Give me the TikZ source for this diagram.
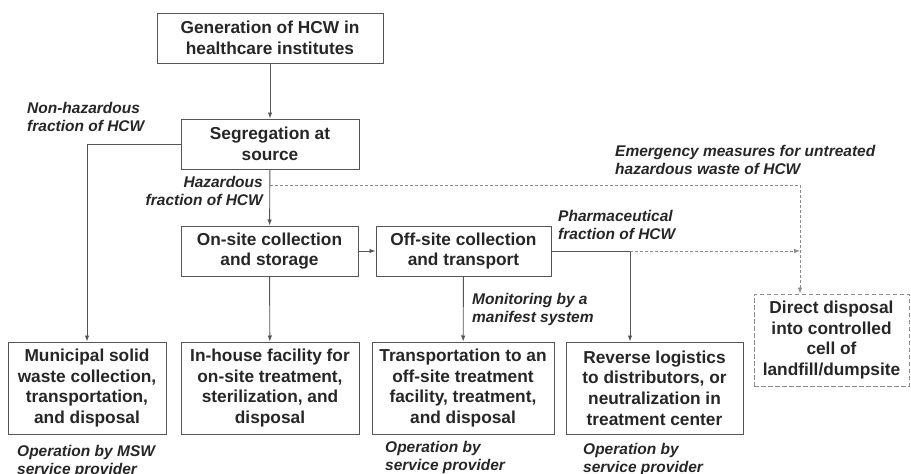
\documentclass[tikz,border=0pt]{standalone}
\usepackage{fontspec}
\setmainfont{Liberation Sans}
\usepackage{xcolor}
\usetikzlibrary{arrows.meta, positioning}

\definecolor{inkgray}{HTML}{262626}
\definecolor{linegray}{HTML}{555555}
\definecolor{dashgray}{HTML}{8C8C8C}

\begin{document}
\begin{tikzpicture}[
                x=1pt, y=-1pt,
                block/.style={draw=linegray, line width=1pt, rectangle, inner sep=0pt, align=center, text=inkgray,
                              font=\bfseries\fontsize{17.3}{20.7}\selectfont},
                note/.style={inner sep=0pt, text=inkgray, font=\bfseries\itshape\fontsize{15.5}{18.5}\selectfont},
                link/.style={draw=linegray, line width=0.9pt, -{Latex[length=6pt,width=4.5pt]}},
                plain/.style={draw=linegray, line width=0.9pt},
                dashlink/.style={draw=dashgray, line width=0.8pt, dash pattern=on 3pt off 2pt}
            ]
            \useasboundingbox (0,0) rectangle (911,474);

            % Upper part of the flow
            \node[block, minimum width=226, minimum height=50] (gen) at (270,38) {Generation of HCW in\\healthcare institutes};
            \node[block, minimum width=178, minimum height=50] (seg) at (270,144) {Segregation at\\source};
            \node[block, minimum width=177, minimum height=50] (onsite) at (269.5,251) {On-site collection\\and storage};
            \node[block, minimum width=175, minimum height=50] (offsite) at (463.5,251) {Off-site collection\\and transport};

            % Final destinations
            \node[block, minimum width=158, minimum height=92] (msw) at (87,388) {Municipal solid\\waste collection,\\transportation,\\and disposal};
            \node[block, minimum width=178, minimum height=92] (inhouse) at (270,388) {In-house facility for\\on-site treatment,\\sterilization, and\\disposal};
            \node[block, minimum width=182, minimum height=92] (transport) at (463,388) {Transportation to an\\off-site treatment\\facility, treatment,\\and disposal};
            \node[block, minimum width=177, minimum height=92] (reverse) at (654.5,388) {Reverse logistics\\to distributors, or\\neutralization in\\treatment center};
            \node[block, draw=dashgray, dash pattern=on 4.5pt off 2.5pt, minimum width=155, minimum height=92] (direct) at (831.5,340) {Direct disposal\\into controlled\\cell of\\landfill/dumpsite};

            % Labels
            \node[note, anchor=north west, align=left] (nonhaz) at (27,102) {Non-hazardous\\fraction of HCW};
            \node[note, anchor=north east, align=right] (haz) at (263,176) {Hazardous\\fraction of HCW};
            \node[note, anchor=north west, align=left] (emerg) at (615,145) {Emergency measures for untreated\\hazardous waste of HCW};
            \node[note, anchor=north west, align=left] (pharma) at (558,210) {Pharmaceutical\\fraction of HCW};
            \node[note, anchor=north west, align=left] (monitor) at (472,293) {Monitoring by a\\manifest system};
            \node[note, anchor=north west, align=left] (opmsw) at (17,445) {Operation by MSW\\service provider};
            \node[note, anchor=north west, align=left] (opoff) at (385,441) {Operation by\\service provider};
            \node[note, anchor=north west, align=left] (oprev) at (583,443) {Operation by\\service provider};

            % Junctions
            \coordinate (hazj) at (270,185);
            \coordinate (emerg corner) at (800,185);
            \coordinate (pharmaj) at (630,251);
            \coordinate (pharma end) at (800,251);

            % Connections
            \draw[link] (gen) -- (seg);
            \draw[link] (seg.west) -| (msw.north);
            \draw[link] (seg) -- (onsite);
            \draw[link] (onsite) -- (offsite);
            \draw[link] (onsite) -- (inhouse);
            \draw[link] (offsite) -- (transport);
            \draw[plain] (offsite.east) -- (pharmaj);
            \draw[link] (pharmaj) -- (pharmaj |- reverse.north);

            \draw[dashlink] (hazj) -- (emerg corner);
            \draw[dashlink, -{Latex[length=6pt,width=4.5pt]}] (emerg corner) -- (emerg corner |- direct.north);
            \draw[dashlink, -{Latex[length=6pt,width=4.5pt]}] (pharmaj) -- (pharma end);
        \end{tikzpicture}
\end{document}
